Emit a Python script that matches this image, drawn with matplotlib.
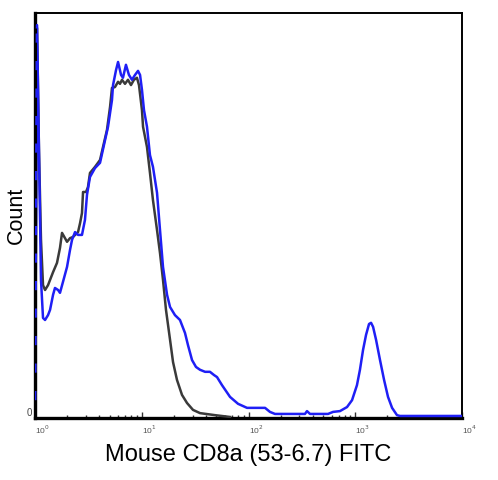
import numpy as np
import matplotlib
matplotlib.use("Agg")
import matplotlib.pyplot as plt
from matplotlib.ticker import LogLocator, NullFormatter, FixedLocator

# ---- data: log10(FITC intensity) and count (% of max) ----
iso_log = [0.000, 0.019, 0.037, 0.056, 0.075, 0.094, 0.122, 0.169, 0.206, 0.234, 0.253,
           0.281, 0.300, 0.328, 0.356, 0.403, 0.422, 0.440, 0.450, 0.478, 0.496, 0.515,
           0.562, 0.609, 0.637, 0.674, 0.703, 0.721, 0.749, 0.778, 0.796, 0.815, 0.843,
           0.871, 0.899, 0.927, 0.955, 0.974, 1.002, 1.012, 1.049, 1.077, 1.105, 1.143,
           1.171, 1.199, 1.227, 1.265, 1.293, 1.330, 1.377, 1.424, 1.480, 1.546, 1.686,
           1.827]
iso_count = [0.0, 96.3, 66.2, 44.0, 32.8, 31.6, 32.8, 36.0, 38.3, 42.0, 45.7,
             44.4, 43.5, 44.4, 44.7, 45.9, 48.1, 50.6, 55.8, 55.8, 57.0, 60.5,
             62.0, 63.7, 66.9, 71.1, 76.8, 81.5, 81.7, 83.0, 82.5, 83.5, 82.5,
             83.5, 82.2, 83.5, 84.0, 82.2, 76.0, 71.9, 66.9, 60.5, 53.8, 46.4,
             40.7, 34.1, 26.7, 19.3, 13.8, 9.4, 5.7, 3.7, 2.0, 1.2, 0.7,
             0.25]

cd8_log = [0.000, 0.019, 0.037, 0.056, 0.075, 0.094, 0.122, 0.141, 0.169, 0.187, 0.216,
           0.234, 0.262, 0.300, 0.328, 0.347, 0.375, 0.403, 0.440, 0.468, 0.487, 0.515,
           0.562, 0.609, 0.656, 0.684, 0.721, 0.731, 0.759, 0.778, 0.806, 0.824, 0.852,
           0.880, 0.908, 0.937, 0.965, 0.984, 1.002, 1.021, 1.049, 1.077, 1.105, 1.143,
           1.171, 1.199, 1.237, 1.265, 1.311, 1.358, 1.405, 1.433, 1.471, 1.508, 1.546,
           1.593, 1.639, 1.677, 1.705, 1.752, 1.827, 1.902, 1.986, 2.061, 2.155, 2.201,
           2.248, 2.529, 2.548, 2.576, 2.745, 2.792, 2.857, 2.923, 2.970, 3.016, 3.044,
           3.073, 3.101, 3.129, 3.148, 3.167, 3.195, 3.232, 3.270, 3.307, 3.345, 3.391,
           3.419, 4.000]
cd8_count = [0.0, 97.0, 66.2, 34.1, 24.7, 24.2, 25.4, 26.7, 30.4, 32.1, 31.6,
             30.9, 33.6, 37.3, 41.5, 44.0, 45.9, 45.2, 45.2, 48.9, 55.1, 59.5,
             61.7, 63.0, 68.6, 71.9, 78.5, 82.2, 85.9, 87.9, 84.7, 84.0, 87.2,
             84.7, 83.5, 84.7, 85.7, 84.7, 81.0, 76.0, 71.9, 64.9, 62.0, 55.6,
             46.4, 37.3, 30.4, 27.4, 25.4, 24.2, 21.0, 18.0, 14.3, 12.6, 11.9,
             11.4, 11.4, 10.6, 10.1, 8.1, 5.2, 3.5, 2.5, 2.5, 2.5, 1.5,
             1.0, 1.0, 1.7, 1.0, 1.0, 1.5, 1.7, 2.7, 4.4, 8.1, 11.9,
             16.8, 20.5, 23.2, 23.5, 22.5, 19.3, 14.3, 9.4, 5.2, 2.5, 0.7,
             0.5, 0.5]

major_ticks = [1, 10, 100, 1000, 10000]
major_labels = [r"10$^0$", r"10$^1$", r"10$^2$", r"10$^3$", r"10$^4$"]

plt.rcParams['font.family'] = ['Liberation Sans', 'DejaVu Sans']

fig = plt.figure(figsize=(4.98, 4.80), dpi=100)
ax = fig.add_axes([0.0703, 0.1292, 0.8574, 0.8438])

iso_x = 10 ** np.array(iso_log)
cd8_x = 10 ** np.array(cd8_log)

ax.plot(iso_x, iso_count, color="#3a3a3a", lw=1.8, solid_joinstyle="round", zorder=3)
ax.plot(cd8_x, cd8_count, color="#1f1ff5", lw=1.8, solid_joinstyle="round", zorder=4)
# dashed black edge of the first bin (overlapping)
ax.plot([iso_x[0], iso_x[0]], [0, iso_count[1]], color="black", lw=2.2,
        dashes=(6, 3), zorder=5)

ax.set_xscale("log")
ax.set_xlim(1, 10000)
ax.set_ylim(0, 100)

ax.xaxis.set_major_locator(FixedLocator(major_ticks))
ax.set_xticklabels(major_labels)
ax.xaxis.set_minor_locator(LogLocator(base=10, subs=np.arange(2, 10), numticks=20))
ax.xaxis.set_minor_formatter(NullFormatter())
ax.tick_params(axis="x", which="major", direction="in", length=4, width=1,
               labelsize=6, pad=4, colors="#333333", labelcolor="#555555")
ax.tick_params(axis="x", which="minor", direction="in", length=2.5, width=1,
               colors="#333333")
for lbl in ax.get_xticklabels():
    lbl.set_horizontalalignment("left")

ax.set_yticks([0])
ax.set_yticklabels(["0"])
ax.tick_params(axis="y", length=0, labelsize=7, pad=2, labelcolor="#444444")
for lbl in ax.get_yticklabels():
    lbl.set_verticalalignment("bottom")

for side, w in [("left", 2.4), ("bottom", 2.4), ("top", 1.4), ("right", 1.4)]:
    ax.spines[side].set_linewidth(w)
    ax.spines[side].set_color("black")

ax.set_xlabel("Mouse CD8a (53-6.7) FITC", fontsize=17)
ax.xaxis.set_label_coords(0.5, -0.063)
ax.set_ylabel("Count", fontsize=15.5)
ax.yaxis.set_label_coords(-0.02, 0.5)

fig.savefig("out.png", dpi=100, facecolor="white")
